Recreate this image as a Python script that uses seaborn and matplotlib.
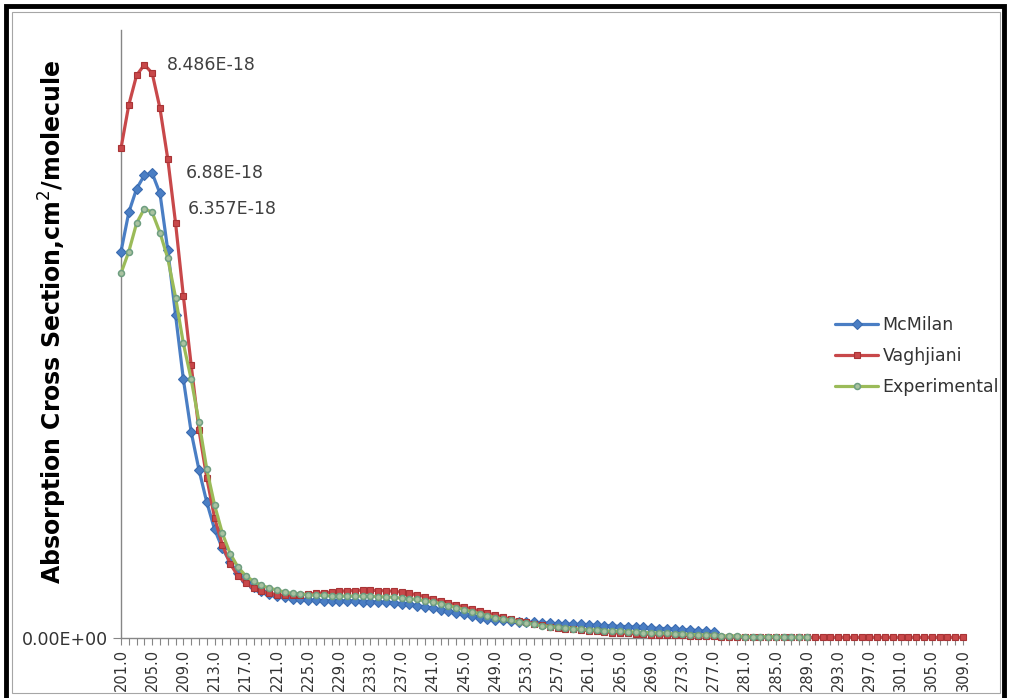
import numpy as np
import pandas as pd
import matplotlib
matplotlib.use("Agg")
import matplotlib.pyplot as plt
import seaborn as sns
from matplotlib.patches import Rectangle

# ---------------- data (units of 1e-18 cm^2/molecule) ----------------
wavelengths = list(range(201, 310))  # 201.0 ... 309.0 category axis

vaghjiani = [
    7.25, 7.89, 8.33, 8.486, 8.36, 7.84, 7.09, 6.14, 5.06, 4.04,
    3.08, 2.37, 1.78, 1.38, 1.10, 0.92, 0.81, 0.74, 0.69, 0.66,
    0.64, 0.63, 0.63, 0.64, 0.65, 0.66, 0.67, 0.68, 0.69, 0.70,
    0.70, 0.71, 0.71, 0.70, 0.70, 0.69, 0.68, 0.66, 0.64, 0.61,
    0.58, 0.55, 0.52, 0.49, 0.46, 0.43, 0.40, 0.37, 0.34, 0.31,
    0.28, 0.25, 0.23, 0.21, 0.19, 0.17, 0.15, 0.14, 0.13, 0.12,
    0.11, 0.10, 0.09, 0.08, 0.07, 0.07, 0.06, 0.06, 0.05, 0.05,
    0.04, 0.04, 0.04, 0.03, 0.03, 0.03, 0.03, 0.02, 0.02, 0.02,
    0.02, 0.02, 0.02, 0.01, 0.01, 0.01, 0.01, 0.01, 0.01, 0.01,
    0.01, 0.01, 0.01, 0.01, 0.01, 0.01, 0.01, 0.01, 0.01, 0.01,
    0.01, 0.01, 0.01, 0.01, 0.01, 0.01, 0.01, 0.01, 0.01,
]

mcmilan = [
    5.72, 6.30, 6.65, 6.85, 6.88, 6.58, 5.74, 4.78, 3.83, 3.05,
    2.49, 2.01, 1.61, 1.33, 1.12, 0.96, 0.85, 0.76, 0.70, 0.65,
    0.62, 0.60, 0.58, 0.57, 0.56, 0.56, 0.55, 0.55, 0.55, 0.55,
    0.55, 0.54, 0.54, 0.53, 0.53, 0.52, 0.51, 0.50, 0.48, 0.46,
    0.44, 0.42, 0.40, 0.37, 0.35, 0.32, 0.30, 0.28, 0.27, 0.26,
    0.25, 0.24, 0.23, 0.23, 0.22, 0.22, 0.21, 0.21, 0.20, 0.20,
    0.19, 0.19, 0.18, 0.18, 0.17, 0.17, 0.16, 0.16, 0.15, 0.14,
    0.14, 0.13, 0.12, 0.12, 0.11, 0.10, 0.09,
]

experimental = [
    5.40, 5.72, 6.14, 6.357, 6.30, 6.00, 5.62, 5.04, 4.36, 3.83,
    3.20, 2.50, 1.97, 1.55, 1.25, 1.05, 0.92, 0.84, 0.78, 0.74,
    0.71, 0.68, 0.66, 0.65, 0.64, 0.63, 0.63, 0.62, 0.62, 0.62,
    0.62, 0.62, 0.62, 0.61, 0.61, 0.60, 0.59, 0.58, 0.57, 0.55,
    0.53, 0.51, 0.48, 0.45, 0.42, 0.39, 0.36, 0.33, 0.30, 0.28,
    0.26, 0.24, 0.22, 0.20, 0.18, 0.17, 0.16, 0.15, 0.14, 0.13,
    0.12, 0.12, 0.11, 0.10, 0.10, 0.09, 0.09, 0.08, 0.08, 0.07,
    0.07, 0.06, 0.06, 0.05, 0.05, 0.04, 0.04, 0.03, 0.03, 0.03,
    0.02, 0.02, 0.02, 0.02, 0.02, 0.01, 0.01, 0.01, 0.01,
]

peak_labels = ["8.486E-18", "6.88E-18", "6.357E-18"]
SCALE = 1e-18
Y_MAX = 9.0

series_names = ["McMilan", "Vaghjiani", "Experimental"]
series_values = [mcmilan, vaghjiani, experimental]

rows = []
for name, vals in zip(series_names, series_values):
    for i, v in enumerate(vals):
        rows.append({"series": name, "idx": i, "wl": wavelengths[i], "val": v * SCALE})
df = pd.DataFrame(rows)

# ---------------- figure ----------------
sns.set_style("white")
plt.rcParams["font.family"] = ["DejaVu Sans"]

fig = plt.figure(figsize=(10.10, 6.98), dpi=100)
W, H = 1010, 698
ax = fig.add_axes([121 / W, (H - 638) / H, (963 - 121) / W, (638 - 30) / H])

styles = {
    "McMilan": dict(color="#4A7EC4", marker="D", markersize=5.5, mfc="#4A7EC4", mec="#3A6BB0", mew=0.8),
    "Vaghjiani": dict(color="#C8484A", marker="s", markersize=4.2, mfc="#C8484A", mec="#A83436", mew=0.8),
    "Experimental": dict(color="#9BBB59", marker="o", markersize=4.3, mfc="#A9C2A0", mec="#6E9E80", mew=1.1),
}

for z, name in enumerate(series_names):
    st = styles[name]
    sub = df[df["series"] == name]
    sns.lineplot(data=sub, x="idx", y="val", ax=ax, color=st["color"], linewidth=2.3,
                 marker=st["marker"], markersize=st["markersize"],
                 markerfacecolor=st["mfc"], markeredgecolor=st["mec"], markeredgewidth=st["mew"],
                 label=name, zorder=3 + z, clip_on=False, legend=False)

n = len(wavelengths)
ax.set_xlim(0, n - 1)
ax.set_ylim(0, Y_MAX * SCALE)

# x ticks: every category, labels every 4th
ax.set_xticks(range(n))
ax.set_xticklabels([f"{w:.1f}" if i % 4 == 0 else "" for i, w in enumerate(wavelengths)],
                   rotation=90, fontsize=10.5, color="#333333")
ax.tick_params(axis="x", direction="out", length=5, width=0.8, color="#868686", pad=3, bottom=True)

ax.set_yticks([0])
ax.set_yticklabels(["0.00E+00"], fontsize=12.5, color="#333333")
ax.tick_params(axis="y", direction="out", length=6, width=0.8, color="#868686", left=True)

for s in ["top", "right"]:
    ax.spines[s].set_visible(False)
for s in ["left", "bottom"]:
    ax.spines[s].set_color("#868686")
    ax.spines[s].set_linewidth(1.0)

ax.set_xlabel("")
ax.set_ylabel("Absorption Cross Section,cm$^2$/molecule", fontsize=17, fontweight="bold",
              color="black", labelpad=10)
ax.yaxis.set_label_coords(-(121 - 69) / (963 - 121), (638 - 322) / (638 - 30))

# peak annotations
peak_specs = [(vaghjiani, peak_labels[0], 16), (mcmilan, peak_labels[1], 24), (experimental, peak_labels[2], 31)]
for vals, txt, off in peak_specs:
    i = int(np.argmax(vals))
    ax.annotate(txt, xy=(i, vals[i] * SCALE), xytext=(off, 0), textcoords="offset points",
                ha="left", va="center", fontsize=12.5, color="#404040")

# legend
handles, labels = ax.get_legend_handles_labels()
leg = fig.legend(handles, labels, loc="center left", bbox_to_anchor=(828 / W, 1 - 356 / H),
                 frameon=False, fontsize=12.5, handlelength=2.5, handletextpad=0.25,
                 labelspacing=0.75, borderaxespad=0)
for t in leg.get_texts():
    t.set_color("#333333")

# outer frame
fig.patches.append(Rectangle((12 / W, 5 / H), (1000 - 12) / W, (686 - 5) / H, transform=fig.transFigure,
                             fill=False, edgecolor="#A6A6A6", linewidth=0.8))
fig.patches.append(Rectangle((6 / W, -0.02), (1004 - 6) / W, 1.02 - 6 / H, transform=fig.transFigure,
                             fill=False, edgecolor="black", linewidth=3.5))

fig.savefig("out.png", dpi=100)
